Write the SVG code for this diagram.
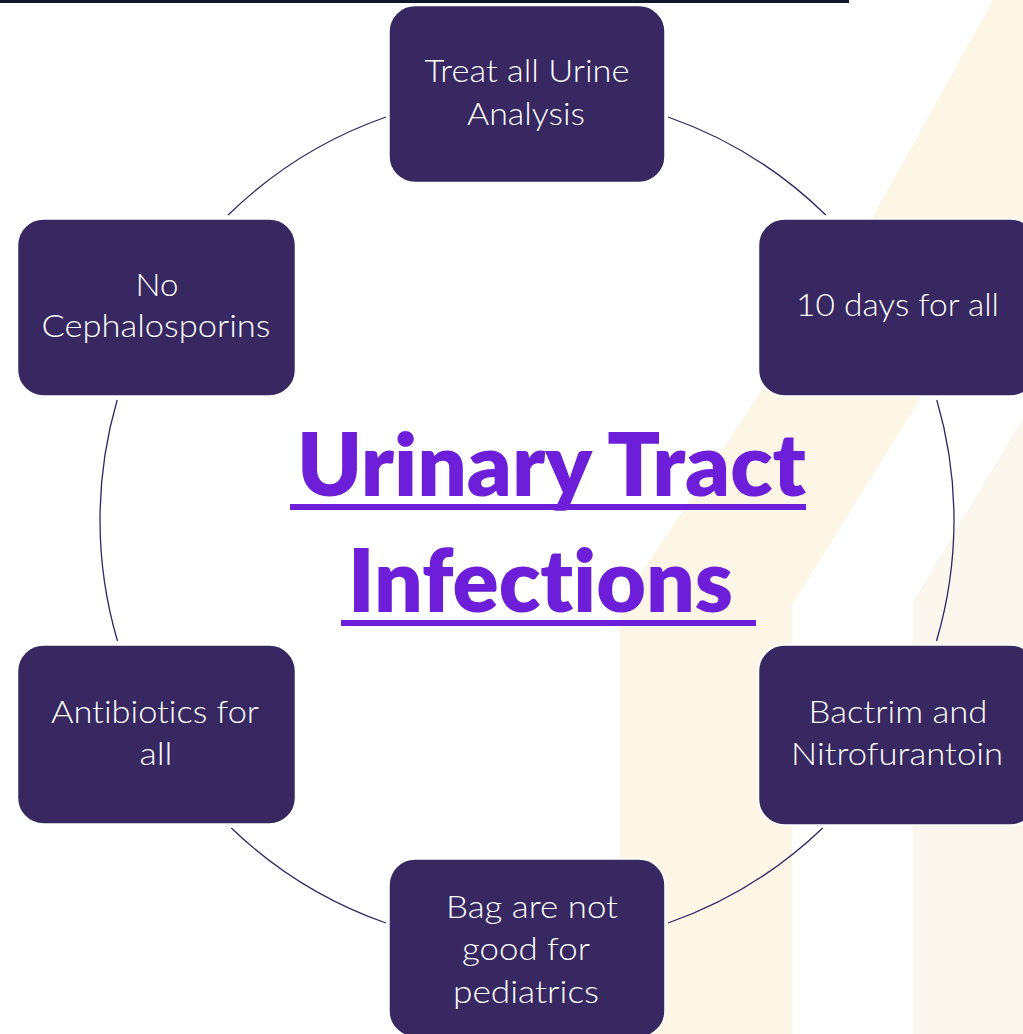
<svg xmlns="http://www.w3.org/2000/svg" width="1023" height="1034" viewBox="0 0 1023 1034">
<style>
.box{fill:#372861;stroke:#ffffff;stroke-width:1.5}
.lbl{font-family:Lato,"Open Sans","Liberation Sans",sans-serif;font-weight:300;font-size:31px;fill:#ffffff;text-anchor:middle;font-variant-ligatures:none}
.ttl{font-family:Lato,"Open Sans","Liberation Sans",sans-serif;font-weight:800;font-size:88px;fill:#6d1ed9;font-variant-ligatures:none}
.arc{fill:none;stroke:#2f2560;stroke-width:1.3}
</style>
<rect x="0" y="0" width="1023" height="1034" fill="#ffffff"/>
<g id="background">
<polygon points="993,0 1023,0 1023,233 845,520 792,605 792,1034 620,1034 620,606 860,240" fill="#fdf6e6"/>
<polygon points="1023,418 913,602 913,1034 1023,1034" fill="#fbf7ee"/>
<rect x="0" y="0" width="849" height="3" fill="#10172a"/>
</g>
<g id="connectors">
<path class="arc" d="M228.2 215 A427 427 0 0 1 386 117"/>
<path class="arc" d="M668 117 A427 427 0 0 1 825.8 215"/>
<path class="arc" d="M936.8 400 A427 427 0 0 1 936.5 641"/>
<path class="arc" d="M822.7 828 A427 427 0 0 1 668 923"/>
<path class="arc" d="M386 923 A427 427 0 0 1 231.3 828"/>
<path class="arc" d="M117.5 641 A427 427 0 0 1 117.2 400"/>
</g>
<g id="title">
<text class="ttl" x="297" y="496" textLength="509" lengthAdjust="spacingAndGlyphs">Urinary Tract</text>
<rect x="290" y="504" width="516" height="6" fill="#6d1ed9"/>
<text class="ttl" x="348" y="612" textLength="385" lengthAdjust="spacingAndGlyphs">Infections</text>
<rect x="341" y="620" width="415" height="6" fill="#6d1ed9"/>
</g>
<g id="node-top">
<rect class="box" x="389" y="5.5" width="276" height="177" rx="26"/>
<text class="lbl" x="527" y="82" textLength="205" lengthAdjust="spacingAndGlyphs">Treat all Urine</text>
<text class="lbl" x="526" y="125" textLength="118" lengthAdjust="spacingAndGlyphs">Analysis</text>
</g>
<g id="node-upper-right">
<rect class="box" x="758.5" y="219" width="278" height="177" rx="26"/>
<text class="lbl" x="897.5" y="316" textLength="203" lengthAdjust="spacingAndGlyphs">10 days for all</text>
</g>
<g id="node-lower-right">
<rect class="box" x="758.5" y="645" width="278" height="180" rx="26"/>
<text class="lbl" x="898" y="723" textLength="179" lengthAdjust="spacingAndGlyphs">Bactrim and</text>
<text class="lbl" x="897" y="765" textLength="212" lengthAdjust="spacingAndGlyphs">Nitrofurantoin</text>
</g>
<g id="node-bottom">
<rect class="box" x="389" y="859" width="276" height="178" rx="26"/>
<text class="lbl" x="532" y="918" textLength="172" lengthAdjust="spacingAndGlyphs">Bag are not</text>
<text class="lbl" x="526" y="960" textLength="128" lengthAdjust="spacingAndGlyphs">good for</text>
<text class="lbl" x="526" y="1003" textLength="146" lengthAdjust="spacingAndGlyphs">pediatrics</text>
</g>
<g id="node-lower-left">
<rect class="box" x="17.5" y="645" width="278" height="179" rx="26"/>
<text class="lbl" x="155" y="723" textLength="208" lengthAdjust="spacingAndGlyphs">Antibiotics for</text>
<text class="lbl" x="156" y="765" textLength="33" lengthAdjust="spacingAndGlyphs">all</text>
</g>
<g id="node-upper-left">
<rect class="box" x="17.5" y="219" width="278" height="177" rx="26"/>
<text class="lbl" x="157" y="296" textLength="43" lengthAdjust="spacingAndGlyphs">No</text>
<text class="lbl" x="156" y="337" textLength="229" lengthAdjust="spacingAndGlyphs">Cephalosporins</text>
</g>
</svg>
